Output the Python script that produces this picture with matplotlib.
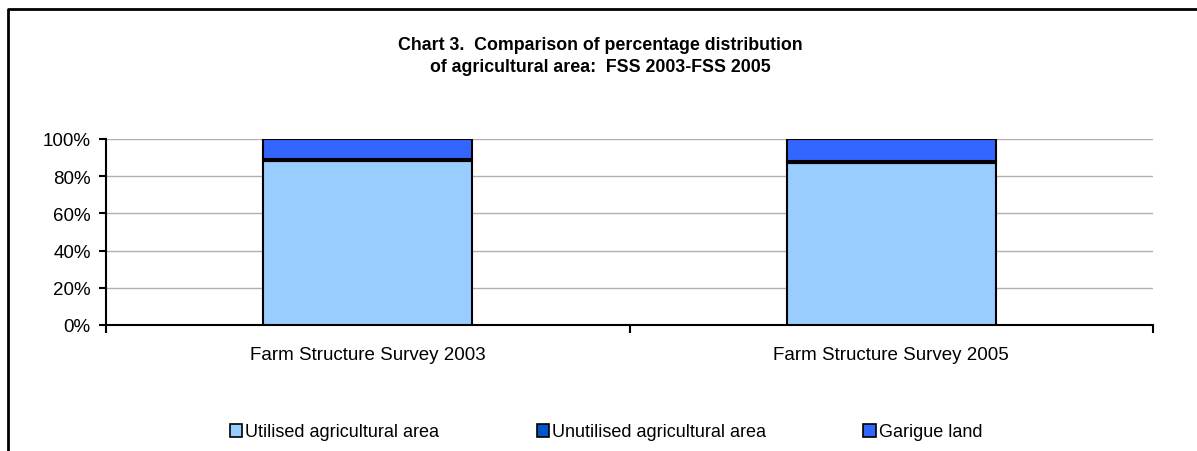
import matplotlib.pyplot as plt
from matplotlib.lines import Line2D
from matplotlib.patches import Patch
import numpy as np

plt.rcParams['font.family'] = ['Liberation Sans', 'DejaVu Sans']

# Datos (porcentajes)
categorias = ['Farm Structure Survey 2003', 'Farm Structure Survey 2005']
series = ['Utilised agricultural area', 'Unutilised agricultural area', 'Garigue land']
utilised = [88.2, 87.1]
unutilised = [1.2, 1.3]
garigue = [10.6, 11.6]
colores = ['#99CCFF', '#0055CC', '#3366FF']

W, H = 1197, 452
fig = plt.figure(figsize=(W / 100, H / 100), dpi=100)
ax = fig.add_axes([106 / W, (H - 326) / H, 1047 / W, 186 / H])

x = np.arange(len(categorias))
bottom = np.zeros(len(categorias))
for nombre, valores, c in zip(series, [utilised, unutilised, garigue], colores):
    ax.bar(x, valores, width=0.4, bottom=bottom, color=c, edgecolor='black',
           linewidth=1.5, label=nombre, zorder=3)
    bottom += np.array(valores)

ax.set_xlim(-0.5, 1.5)
ax.set_ylim(0, 100)
ax.set_yticks(np.arange(0, 101, 20))
ax.set_yticklabels([f'{v}%' for v in range(0, 101, 20)], fontsize=13.5)
ax.yaxis.grid(True, color='#B0B0B0', linewidth=1, zorder=0)

# Etiquetas de categoría sin marcas; marcas en los límites
ax.set_xticks(x)
ax.set_xticklabels(categorias, fontsize=13.5)
ax.tick_params(axis='x', length=0, pad=15)
ax.set_xticks([-0.5, 0.5, 1.5], minor=True)
ax.tick_params(axis='x', which='minor', length=6, width=1.5, direction='out')
ax.tick_params(axis='y', length=5, width=1.5, direction='out', pad=6)

for lado in ['top', 'right']:
    ax.spines[lado].set_visible(False)
ax.spines['left'].set_linewidth(1.5)
ax.spines['bottom'].set_linewidth(1.5)

fig.text(600 / W, 1 - 45 / H, 'Chart 3.  Comparison of percentage distribution',
         ha='center', va='center', fontsize=12.8, fontweight='bold')
fig.text(600 / W, 1 - 68 / H, 'of agricultural area:  FSS 2003-FSS 2005',
         ha='center', va='center', fontsize=12.8, fontweight='bold')

# Leyenda
handles = [Patch(facecolor=c, edgecolor='black', linewidth=1.2) for c in colores]
fig.legend(handles, series, loc='center', bbox_to_anchor=(606 / W, 1 - 433 / H),
           ncol=3, frameon=False, fontsize=13, handlelength=0.7, handleheight=0.7,
           handletextpad=0.15, columnspacing=5.4)

# Marco exterior
fig.add_artist(Line2D([8 / W, 8 / W, 1], [0, 1 - 10 / H, 1 - 10 / H],
                      transform=fig.transFigure, color='black', linewidth=2))

fig.savefig('out.png', dpi=100)
